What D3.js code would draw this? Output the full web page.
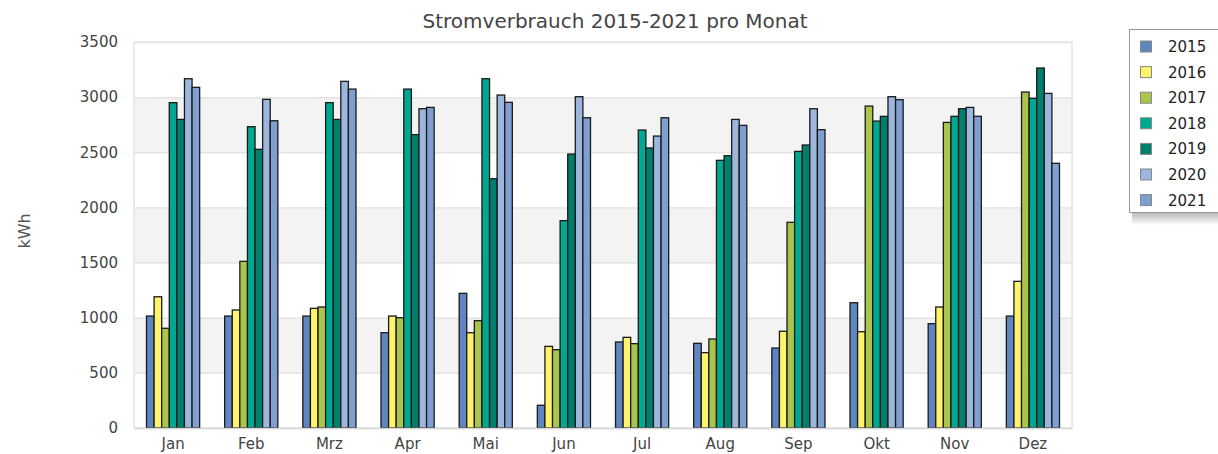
<!DOCTYPE html>
<html>
<head>
<meta charset="utf-8">
<script src="https://cdn.jsdelivr.net/npm/d3@7"></script>
<style>
  body { margin: 0; background: #fff; }
  svg { font-family: "DejaVu Sans", sans-serif; }
</style>
</head>
<body>
<div class="svg-container"></div>
<script>
// months and years
const months = ['Jan', 'Feb', 'Mrz', 'Apr', 'Mai', 'Jun', 'Jul', 'Aug', 'Sep', 'Okt', 'Nov', 'Dez'];
const years = ['2015', '2016', '2017', '2018', '2019', '2020', '2021'];
const yTicks = [0, 500, 1000, 1500, 2000, 2500, 3000, 3500];

// kWh per month, one list per year
const v2015 = [1015, 1015, 1015, 864, 1221, 206, 780, 768, 725, 1136, 946, 1015];
const v2016 = [1190, 1070, 1085, 1015, 864, 740, 822, 683, 877, 873, 1097, 1330];
const v2017 = [904, 1511, 1097, 1000, 973, 710, 765, 807, 1865, 2919, 2771, 3046];
const v2018 = [2950, 2732, 2950, 3073, 3167, 1880, 2702, 2427, 2508, 2783, 2826, 2989];
const v2019 = [2798, 2527, 2798, 2660, 2260, 2484, 2539, 2469, 2566, 2826, 2895, 3264];
const v2020 = [3167, 2980, 3143, 2895, 3019, 3004, 2647, 2798, 2895, 3004, 2907, 3034];
const v2021 = [3089, 2786, 3073, 2907, 2953, 2813, 2813, 2744, 2705, 2977, 2826, 2400];

const series = [v2015, v2016, v2017, v2018, v2019, v2020, v2021];
const colours = ['#5f86c1', '#fff36b', '#a9c54b', '#00a891', '#00806c', '#9cb6dd', '#7f9fd1'];

function renderChart() {

  // dimensions
  const width = 1218;
  const height = 454;
  const plot = { left: 134, right: 1072, top: 42, bottom: 428 };
  const font = '"DejaVu Sans", sans-serif';

  const svg = d3.select('.svg-container')
    .append('svg')
    .attr('width', width)
    .attr('height', height)

  const x = d3.scaleBand()
    .domain(months)
    .range([plot.left, plot.right])

  const xInner = d3.scaleBand()
    .domain(years)
    .range([0, x.bandwidth() * 0.68])

  const y = d3.scaleLinear()
    .domain([0, 3500])
    .range([plot.bottom, plot.top])

  const colour = d3.scaleOrdinal()
    .domain(years)
    .range(colours)

  // alternating background bands
  const bands = d3.range(0, 3500, 500).filter((d, i) => i % 2 === 1);
  svg.selectAll('.band')
    .data(bands)
    .enter()
    .append('rect')
    .attr('x', plot.left)
    .attr('y', d => y(d + 500))
    .attr('width', plot.right - plot.left)
    .attr('height', d => y(d) - y(d + 500))
    .style('fill', '#f3f3f3')

  // gridlines + y axis labels
  const yAxis = d3.axisLeft(y)
    .tickValues(yTicks)
    .tickFormat(d3.format('d'))
    .tickSize(-(plot.right - plot.left))
    .tickPadding(16)

  const yG = svg.append('g')
    .attr('transform', `translate(${plot.left},0)`)
    .call(yAxis)
  yG.select('.domain').remove();
  yG.selectAll('line').style('stroke', '#e4e4e4').style('stroke-width', 1.5);
  yG.selectAll('text')
    .style('font-size', '15px')
    .style('fill', '#444')
    .style('font-family', font)

  // plot frame
  svg.append('rect')
    .attr('x', plot.left)
    .attr('y', plot.top)
    .attr('width', plot.right - plot.left)
    .attr('height', plot.bottom - plot.top)
    .style('fill', 'none')
    .style('stroke', '#e4e4e4')
    .style('stroke-width', 1.5)

  // bars
  const data = [];
  months.forEach((m, i) => {
    years.forEach((yr, j) => {
      data.push({ month: m, year: yr, value: series[j][i] });
    });
  });

  const offset = (x.bandwidth() - xInner.range()[1]) / 2;

  svg.selectAll('.bar')
    .data(data)
    .enter()
    .append('rect')
    .attr('class', 'bar')
    .attr('x', d => x(d.month) + offset + xInner(d.year))
    .attr('y', d => y(d.value))
    .attr('width', xInner.bandwidth())
    .attr('height', d => y(0) - y(d.value))
    .style('fill', d => colour(d.year))
    .style('stroke', '#1a1a1a')
    .style('stroke-width', 1.3)

  // x axis
  const xAxis = d3.axisBottom(x).tickSize(0).tickPadding(10);
  const xG = svg.append('g')
    .attr('transform', `translate(0,${plot.bottom})`)
    .call(xAxis)
  xG.select('.domain').style('stroke', '#d8d8d8').style('stroke-width', 1.5);
  xG.selectAll('text')
    .style('font-size', '15px')
    .style('fill', '#444')
    .style('font-family', font)

  // title
  svg.append('text')
    .attr('x', 615)
    .attr('y', 28)
    .attr('text-anchor', 'middle')
    .style('font-size', '20px')
    .style('fill', '#444')
    .text('Stromverbrauch 2015-2021 pro Monat')

  // y label
  svg.append('text')
    .attr('transform', 'translate(24,231) rotate(-90)')
    .attr('text-anchor', 'middle')
    .attr('dy', '0.35em')
    .style('font-size', '16px')
    .style('fill', '#555')
    .text('kWh')

  // legend with shadow
  const defs = svg.append('defs');
  const grad = defs.append('linearGradient')
    .attr('id', 'shadow')
    .attr('x1', 0).attr('y1', 0).attr('x2', 0).attr('y2', 1)
  grad.append('stop').attr('offset', '0%').style('stop-color', '#bbb')
  grad.append('stop').attr('offset', '100%').style('stop-color', '#fff')

  svg.append('rect')
    .attr('x', 1132)
    .attr('y', 213)
    .attr('width', 100)
    .attr('height', 12)
    .style('fill', 'url(#shadow)')

  svg.append('rect')
    .attr('x', 1129.5)
    .attr('y', 29.5)
    .attr('width', 100)
    .attr('height', 183)
    .style('fill', '#fff')
    .style('stroke', '#999')
    .style('stroke-width', 1)

  const legend = svg.selectAll('.legend')
    .data(years)
    .enter()
    .append('g')
    .attr('transform', (d, i) => `translate(1140,${46.5 + i * 25.6})`)

  legend.append('rect')
    .attr('x', 0.5)
    .attr('y', -5.5)
    .attr('width', 11)
    .attr('height', 11)
    .style('fill', d => colour(d))
    .style('stroke', '#888')

  legend.append('text')
    .attr('x', 28)
    .attr('y', 5.5)
    .style('font-size', '15px')
    .style('fill', '#222')
    .text(d => d)
}

renderChart();
</script>
</body>
</html>
